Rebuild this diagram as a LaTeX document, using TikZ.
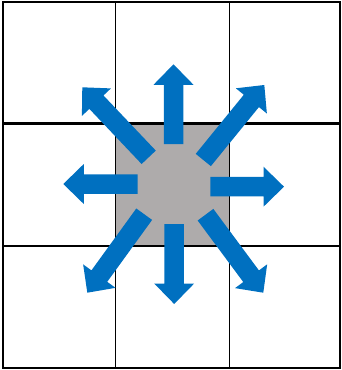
\documentclass[tikz,border=0pt]{standalone}
\usetikzlibrary{calc}
\definecolor{arrowblue}{HTML}{0070C0}
\definecolor{cellgray}{HTML}{AEABAB}
\tikzset{
  thinline/.style={line width=1.5pt, black},
  thickline/.style={line width=2.8pt, black},
  frameline/.style={line width=2pt, black},
}
\newcommand\blockarrow[2]{%
  \coordinate (ba-b) at ($(#2)!20.5pt!(#1)$);
  \fill[arrowblue] ($(#1)!9.75pt!90:(#2)$) -- ($(ba-b)!9.75pt!90:(#2)$) -- ($(ba-b)!20pt!90:(#2)$) -- (#2) -- ($(ba-b)!20pt!-90:(#2)$) -- ($(ba-b)!9.75pt!-90:(#2)$) -- ($(#1)!9.75pt!-90:(#2)$) -- cycle;
}
\begin{document}
\begin{tikzpicture}[x=1pt,y=-1pt]
\useasboundingbox (0,0) rectangle (341,370);
% centre cell
\fill[cellgray] (115.7,123.3) rectangle (229.3,246);
% grid
\draw[thinline] (115.7,1.7) -- (115.7,368.2);
\draw[thinline] (229.3,1.7) -- (229.3,368.2);
\draw[thickline] (2.7,123.3) -- (341,123.3);
\draw[thickline] (2.7,246) -- (341,246);
\draw[frameline] (2.7,1.7) rectangle (339.8,368.2);
% arrow end points
\coordinate (uS) at (173.5,144); \coordinate (uT) at (173.5,64.3);
\coordinate (dS) at (174.2,224);   \coordinate (dT) at (174.2,304);
\coordinate (lS) at (137.7,184);   \coordinate (lT) at (63.3,184);
\coordinate (rS) at (210.3,186.7); \coordinate (rT) at (284,186.7);
\coordinate (ulS) at (148.7,157.3); \coordinate (ulT) at (82.3,87.3);
\coordinate (urS) at (203.3,160);   \coordinate (urT) at (264.3,85);
\coordinate (llS) at (144.2,214.2); \coordinate (llT) at (87.3,292.7);
\coordinate (lrS) at (205.5,214.7); \coordinate (lrT) at (263.3,292.7);
\blockarrow{uS}{uT}
\blockarrow{dS}{dT}
\blockarrow{lS}{lT}
\blockarrow{rS}{rT}
\blockarrow{ulS}{ulT}
\blockarrow{urS}{urT}
\blockarrow{llS}{llT}
\blockarrow{lrS}{lrT}
\end{tikzpicture}
\end{document}
